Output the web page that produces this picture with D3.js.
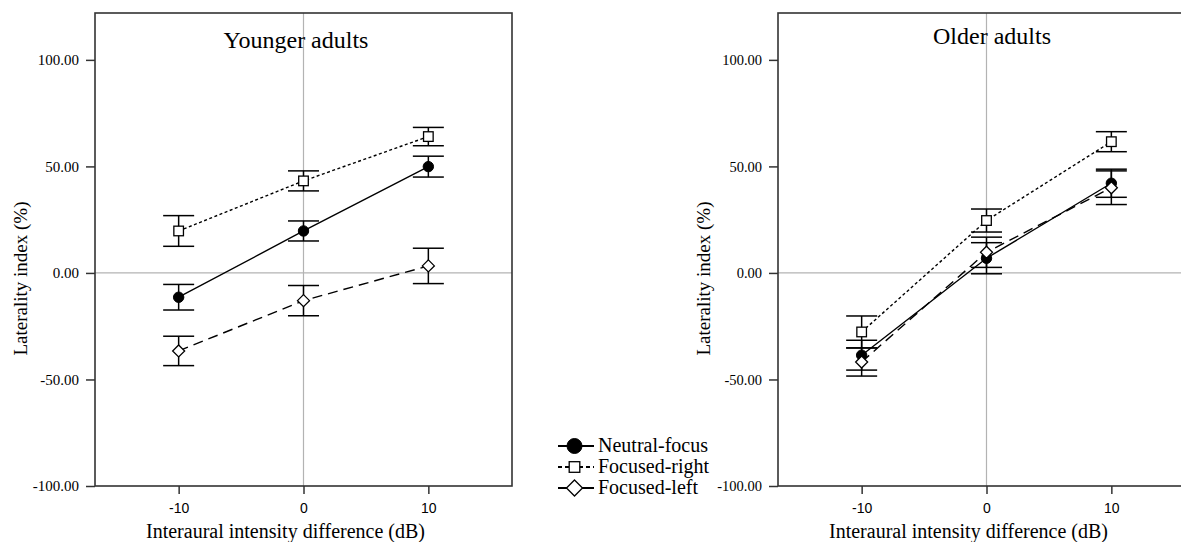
<!DOCTYPE html>
<html>
<head>
<meta charset="utf-8">
<script src="https://cdn.jsdelivr.net/npm/d3@7"></script>
<style>
  body { margin: 0; background: #fff; }
  svg { display: block; }
</style>
</head>
<body>
<svg id="laterality" width="1181" height="542"></svg>
<script>
(() => {

// data
const iid_levels = [-10, 0, 10];
const y_ticks = [-100, -50, 0, 50, 100];
const conditions = ['Neutral-focus', 'Focused-right', 'Focused-left'];

const younger_neutral = [-11.4, 19.7, 49.9];
const younger_neutral_err = [6.0, 4.7, 4.9];
const younger_right = [19.7, 43.2, 64.0];
const younger_right_err = [7.2, 4.7, 4.3];
const younger_left = [-36.6, -13.0, 3.3];
const younger_left_err = [6.9, 7.1, 8.3];

const older_neutral = [-38.6, 6.9, 42.1];
const older_neutral_err = [7.0, 7.3, 6.6];
const older_right = [-27.7, 24.6, 61.6];
const older_right_err = [7.5, 5.4, 4.7];
const older_left = [-41.8, 9.7, 40.0];
const older_left_err = [6.6, 7.1, 7.9];

// chart parameters
const x_min = -16.7;
const x_max = 16.7;
const y_min = -100;
const y_max = 122;
const plot_top = 13;
const plot_bottom = 486;
const cap_half = 15.5;
const axis_color = '#333';
const grid_color = '#b3b3b3';
const serif = '"Liberation Serif", "Times New Roman", Times, serif';

const series_style = {
    'Neutral-focus': {dash: null, marker: 'circle'},
    'Focused-right': {dash: '3,2.5', marker: 'square'},
    'Focused-left': {dash: '10,6', marker: 'diamond'}
};

let svg = d3.select('#laterality');

function make_series(means, errs) {
    return means.map((m, i) => ({x: iid_levels[i], y: m, err: errs[i]}));
}

function draw_marker(g, type, cx, cy, size) {
    if (type == 'circle') {
        g.append('circle')
            .attr('cx', cx).attr('cy', cy).attr('r', size)
            .attr('fill', '#000').attr('stroke', '#000').attr('stroke-width', 1);
    } else if (type == 'square') {
        g.append('rect')
            .attr('x', cx - size).attr('y', cy - size)
            .attr('width', size * 2).attr('height', size * 2)
            .attr('fill', '#fff').attr('stroke', '#000').attr('stroke-width', 1.3);
    } else {
        g.append('path')
            .attr('d', `M${cx},${cy - size}L${cx + size},${cy}L${cx},${cy + size}L${cx - size},${cy}Z`)
            .attr('fill', '#fff').attr('stroke', '#000').attr('stroke-width', 1.3);
    }
}

function draw_panel(p) {
    let g = svg.append('g');

    let x_scale = d3.scaleLinear().domain([x_min, x_max]).range([p.left, p.right]);
    let y_scale = d3.scaleLinear().domain([y_min, y_max]).range([plot_bottom, plot_top]);

    // reference lines at zero
    g.append('line')
        .attr('x1', x_scale(0)).attr('x2', x_scale(0))
        .attr('y1', plot_top).attr('y2', plot_bottom)
        .attr('stroke', grid_color).attr('stroke-width', 1.2);
    g.append('line')
        .attr('x1', p.left).attr('x2', p.right)
        .attr('y1', y_scale(0)).attr('y2', y_scale(0))
        .attr('stroke', grid_color).attr('stroke-width', 1.2);

    // axes
    let y_axis = d3.axisLeft(y_scale)
        .tickValues(y_ticks)
        .tickFormat((d) => d.toFixed(2))
        .tickSize(9)
        .tickPadding(7);
    let y_g = g.append('g')
        .attr('transform', `translate(${p.left},0)`)
        .attr('font-family', serif)
        .call(y_axis);
    y_g.select('.domain').remove();
    y_g.selectAll('line').attr('stroke', axis_color).attr('stroke-width', 1.5);
    y_g.selectAll('text')
        .attr('fill', '#000')
        .style('font-family', serif)
        .style('font-size', p.y_tick_size + 'px');

    let x_axis = d3.axisBottom(x_scale)
        .tickValues(iid_levels)
        .tickFormat((d) => String(d))
        .tickSize(8)
        .tickPadding(9);
    let x_g = g.append('g')
        .attr('transform', `translate(0,${plot_bottom})`)
        .call(x_axis);
    x_g.select('.domain').remove();
    x_g.selectAll('line').attr('stroke', axis_color).attr('stroke-width', 1.5);
    x_g.selectAll('text')
        .attr('fill', '#000')
        .style('font-family', '"Liberation Sans", Arial, sans-serif')
        .style('font-size', '14px');

    // connecting lines
    let line = d3.line().x((d) => x_scale(d.x)).y((d) => y_scale(d.y));
    for (const s of p.series) {
        g.append('path')
            .datum(s.points)
            .attr('d', line)
            .attr('fill', 'none')
            .attr('stroke', '#000')
            .attr('stroke-width', 1.4)
            .attr('stroke-dasharray', series_style[s.name].dash);
    }

    // error bars
    for (const s of p.series) {
        let eg = g.append('g').attr('stroke', '#000').attr('stroke-width', 1.5);
        for (const d of s.points) {
            let cx = x_scale(d.x);
            let y_hi = y_scale(d.y + d.err);
            let y_lo = y_scale(d.y - d.err);
            eg.append('line').attr('x1', cx).attr('x2', cx).attr('y1', y_hi).attr('y2', y_lo);
            eg.append('line').attr('x1', cx - cap_half).attr('x2', cx + cap_half).attr('y1', y_hi).attr('y2', y_hi);
            eg.append('line').attr('x1', cx - cap_half).attr('x2', cx + cap_half).attr('y1', y_lo).attr('y2', y_lo);
        }
    }

    // markers
    for (const s of p.series) {
        let type = series_style[s.name].marker;
        let size = type == 'circle' ? 5.2 : (type == 'square' ? 4.8 : 6);
        for (const d of s.points) {
            draw_marker(g, type, x_scale(d.x), y_scale(d.y), size);
        }
    }

    // frame
    g.append('rect')
        .attr('x', p.left).attr('y', plot_top)
        .attr('width', p.right - p.left).attr('height', plot_bottom - plot_top)
        .attr('fill', 'none').attr('stroke', axis_color).attr('stroke-width', 1.6);

    // texts
    g.append('text')
        .attr('x', p.title_x).attr('y', p.title_y)
        .attr('text-anchor', 'middle')
        .style('font-family', serif)
        .style('font-size', '24px')
        .text(p.title);

    g.append('text')
        .attr('x', (p.left + p.right) / 2 - 18).attr('y', 538)
        .attr('text-anchor', 'middle')
        .style('font-family', serif)
        .style('font-size', '20px')
        .text('Interaural intensity difference (dB)');

    g.append('text')
        .attr('transform', `translate(${p.left - 68},278.5) rotate(-90)`)
        .attr('text-anchor', 'middle')
        .style('font-family', serif)
        .style('font-size', '19px')
        .text('Laterality index (%)');
}

draw_panel({
    left: 95, right: 512,
    title: 'Younger adults', title_x: 296, title_y: 48,
    y_tick_size: 15,
    series: [
        {name: conditions[0], points: make_series(younger_neutral, younger_neutral_err)},
        {name: conditions[1], points: make_series(younger_right, younger_right_err)},
        {name: conditions[2], points: make_series(younger_left, younger_left_err)}
    ]
});

draw_panel({
    left: 778, right: 1195,
    title: 'Older adults', title_x: 992, title_y: 44,
    y_tick_size: 14.5,
    series: [
        {name: conditions[0], points: make_series(older_neutral, older_neutral_err)},
        {name: conditions[1], points: make_series(older_right, older_right_err)},
        {name: conditions[2], points: make_series(older_left, older_left_err)}
    ]
});

// legend
let legend = svg.append('g').attr('transform', 'translate(558,452)');
conditions.forEach((name, i) => {
    let row = legend.append('g').attr('transform', `translate(0,${i * 21})`);
    let type = series_style[name].marker;
    row.append('line')
        .attr('x1', 0).attr('x2', 36).attr('y1', -6).attr('y2', -6)
        .attr('stroke', '#000').attr('stroke-width', 2)
        .attr('stroke-dasharray', type == 'square' ? '4,3' : null);
    let size = type == 'circle' ? 7.5 : (type == 'square' ? 5.3 : 8);
    draw_marker(row, type, 16.5, -6, size);
    row.append('text')
        .attr('x', 40).attr('y', 0)
        .style('font-family', serif)
        .style('font-size', '20px')
        .text(name);
});

})();
</script>
</body>
</html>
